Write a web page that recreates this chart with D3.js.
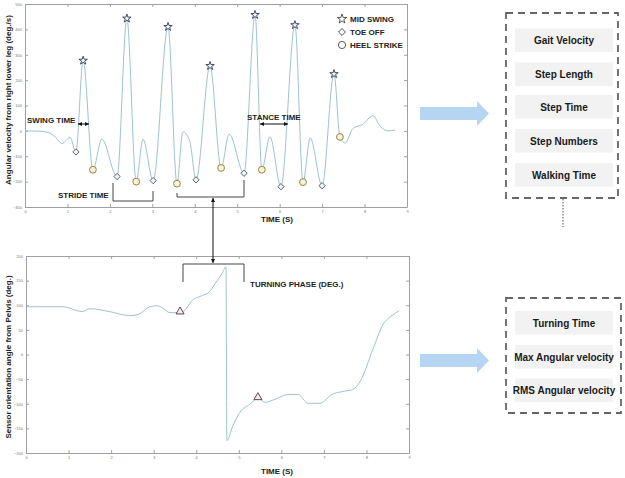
<!DOCTYPE html>
<html><head><meta charset="utf-8">
<script src="https://cdn.jsdelivr.net/npm/d3@7"></script>
<style>body{margin:0;background:#fff}svg{display:block}text{font-family:"Liberation Sans",Arial,sans-serif}</style>
</head><body>
<svg id="c" width="625" height="478"></svg>
<script>
// ---- top plot: shank angular velocity ----
const gaitT = [0,0.3,0.55,0.72,0.87,1.06,1.20,1.37,1.60,1.81,2.17,2.40,2.62,2.78,3.02,3.37,3.58,3.72,3.88,4.03,4.36,4.62,4.81,5.16,5.42,5.58,5.77,6.03,6.36,6.55,6.72,7.00,7.28,7.42,7.54,7.73,7.95,8.20,8.36,8.55,8.72];
const gaitV = [0,-1,-6,-25,-50,-25,-83,277,-153,-33,-180,443,-200,-33,-196,410,-208,-3,-40,-193,256,-146,-13,-167,457,-153,-23,-220,417,-202,-28,-216,224,-24,-48,10,25,60,20,0,3];
const midSwingT = [1.37,2.40,3.37,4.36,5.42,6.36,7.28];
const midSwingV = [277,443,410,256,457,417,224];
const toeOffT = [1.20,2.17,3.02,4.03,5.16,6.03,7.00];
const toeOffV = [-83,-180,-196,-193,-167,-220,-216];
const heelT = [1.60,2.62,3.58,4.62,5.58,6.55,7.42];
const heelV = [-153,-200,-208,-146,-153,-202,-24];
const topYTicks = [500,400,300,200,100,0,-100,-200,-300];
const xTicks = [0,1,2,3,4,5,6,7,8,9];
const legendLabels = ["MID SWING","TOE OFF","HEEL STRIKE"];

// ---- bottom plot: pelvis orientation ----
const pelT = [0.02,0.87,1.32,1.50,1.97,2.44,2.63,2.91,3.08,3.20,3.38,3.62,3.74,3.92,4.09,4.32,4.39,4.61,4.70,4.72,4.86,5.03,5.26,5.45,5.62,5.85,6.16,6.39,6.63,6.91,7.19,7.45,7.68,7.85,8.15,8.39,8.60,8.77];
const pelV = [97,97,87,93,87,79,81,97,99,95,85,85,91,111,118,128,137,165,178,-175,-145,-117,-101,-89,-97,-91,-81,-81,-99,-99,-81,-75,-71,-55,10,61,79,89];
const turnT = [3.62,5.45];
const turnV = [85,-89];
const botYTicks = [200,150,100,50,0,-50,-100,-150,-200];

const gaitParams = ["Gait Velocity","Step Length","Step Time","Step Numbers","Walking Time"];
const turnParams = ["Turning Time","Max Angular velocity","RMS Angular velocity"];

const svg = d3.select("#c");
const lineCol = "#9cc3cf";

function panel(x0,x1,y0,y1,ydom,yticks){
  const x = d3.scaleLinear().domain([0,9]).range([x0,x1]);
  const y = d3.scaleLinear().domain(ydom).range([y1,y0]);
  const g = svg.append("g");
  const ax = (gen,tr,lab)=>{
    const a = g.append("g").attr("transform",tr).call(gen.tickSizeInner(-3).tickSizeOuter(0).tickPadding(3));
    a.select(".domain").attr("stroke","#a0a0a0");
    a.selectAll(".tick line").attr("stroke","#a0a0a0");
    a.selectAll("text").attr("font-size",4).attr("fill","#777");
    if(!lab) a.selectAll("text").remove();
  };
  ax(d3.axisBottom(x).tickValues(xTicks).tickFormat(d3.format("d")),`translate(0,${y1})`,true);
  ax(d3.axisTop(x).tickValues(xTicks),`translate(0,${y0})`,false);
  ax(d3.axisLeft(y).tickValues(yticks).tickFormat(d3.format("d")),`translate(${x0},0)`,true);
  ax(d3.axisRight(y).tickValues(yticks),`translate(${x1},0)`,false);
  return {x,y,g};
}

// top panel
const P1 = panel(25,407,4,207,[-300,500],topYTicks);
const line1 = d3.line().x((d,i)=>P1.x(gaitT[i])).y((d,i)=>P1.y(gaitV[i])).curve(d3.curveMonotoneX);
P1.g.append("path").attr("d",line1(gaitT)).attr("fill","none").attr("stroke",lineCol).attr("stroke-width",1);

const starSym = d3.symbol().type(d3.symbolStar).size(22);
const diaSym = d3.symbol().type(d3.symbolSquare).size(20);
P1.g.selectAll(".st").data(midSwingT).join("path").attr("d",starSym())
  .attr("transform",(d,i)=>`translate(${P1.x(d)},${P1.y(midSwingV[i])})`)
  .attr("fill","#f2f5f9").attr("stroke","#2f3b55").attr("stroke-width",0.9);
P1.g.selectAll(".di").data(toeOffT).join("path").attr("d",diaSym())
  .attr("transform",(d,i)=>`translate(${P1.x(d)},${P1.y(toeOffV[i])}) rotate(45)`)
  .attr("fill","#eef4f6").attr("stroke","#555c66").attr("stroke-width",0.9);
P1.g.selectAll(".hc").data(heelT).join("circle")
  .attr("cx",d=>P1.x(d)).attr("cy",(d,i)=>P1.y(heelV[i])).attr("r",3.4)
  .attr("fill","#f8f3d6").attr("stroke","#857c35").attr("stroke-width",0.9);

// legend
const lg = svg.append("g");
const lgY=[19,32,45];
lg.append("path").attr("d",d3.symbol().type(d3.symbolStar).size(28)()).attr("transform",`translate(342,${lgY[0]})`).attr("fill","#fff").attr("stroke","#333").attr("stroke-width",0.8);
lg.append("path").attr("d",d3.symbol().type(d3.symbolSquare).size(24)()).attr("transform",`translate(342,${lgY[1]}) rotate(45)`).attr("fill","#fff").attr("stroke","#333").attr("stroke-width",0.8);
lg.append("circle").attr("cx",342).attr("cy",lgY[2]).attr("r",3.6).attr("fill","#fff").attr("stroke","#333").attr("stroke-width",0.8);
lg.selectAll("text").data(legendLabels).join("text").attr("x",350).attr("y",(d,i)=>lgY[i]+3)
  .attr("font-size",8).attr("font-weight","bold").attr("fill","#222").text(d=>d);

// bottom panel
const P2 = panel(26,409,256,453,[-200,200],botYTicks);
const line2 = d3.line().x((d,i)=>P2.x(pelT[i])).y((d,i)=>P2.y(pelV[i])).curve(d3.curveMonotoneX);
P2.g.append("path").attr("d",line2(pelT)).attr("fill","none").attr("stroke",lineCol).attr("stroke-width",1);
P2.g.selectAll(".tr").data(turnT).join("path").attr("d",d3.symbol().type(d3.symbolTriangle).size(28)())
  .attr("transform",(d,i)=>`translate(${P2.x(d)},${P2.y(turnV[i])-1})`)
  .attr("fill","#f4ecee").attr("stroke","#5a3040").attr("stroke-width",0.9);

// axis titles
function txt(x,y,s,size,rot,anchor){
  const t = svg.append("text").attr("font-size",size).attr("font-weight","bold").attr("fill","#222")
    .attr("text-anchor",anchor||"start").text(s);
  if(rot) t.attr("transform",`translate(${x},${y}) rotate(-90)`); else t.attr("x",x).attr("y",y);
  return t;
}
txt(11,100,"Angular velocity from right lower leg (deg./s)",8,true,"middle");
txt(11,357,"Sensor orientation angle from Pelvis (deg.)",8,true,"middle");
txt(277,222,"TIME (S)",8,false,"middle");
txt(277,474,"TIME (S)",8,false,"middle");

// annotations
const ann = svg.append("g").attr("stroke","#444").attr("fill","none").attr("stroke-width",1);
txt(27,123,"SWING TIME",8);
txt(247,120,"STANCE TIME",8);
txt(58,198,"STRIDE TIME",8);
txt(250,287,"TURNING PHASE (DEG.)",8);
function dbl(x1,y1,x2,y2){
  ann.append("line").attr("x1",x1).attr("y1",y1).attr("x2",x2).attr("y2",y2).attr("stroke","#111");
  const head=(px,py,dx,dy)=>{const nx=-dy,ny=dx;ann.append("path").attr("d",`M${px},${py}L${px-dx*4+nx*2},${py-dy*4+ny*2}L${px-dx*4-nx*2},${py-dy*4-ny*2}Z`).attr("fill","#111").attr("stroke","none");};
  const L=Math.hypot(x2-x1,y2-y1),dx=(x2-x1)/L,dy=(y2-y1)/L;
  head(x2,y2,dx,dy); head(x1,y1,-dx,-dy);
}
dbl(78,124,89,124);
dbl(260,124,288,124);
dbl(213,198,213,263);
ann.append("path").attr("d","M113,183V201H153V191");
ann.append("path").attr("d","M177,193V197H244V180");
ann.append("path").attr("d","M183,282V264H244V282");

// block arrows
[113.5,360.5].forEach(cy=>{
  svg.append("path").attr("d",`M420,${cy-6.5}H477V${cy-12.5}L489,${cy}L477,${cy+12.5}V${cy+6.5}H420Z`).attr("fill","#b5d5f2");
});

// boxes
function box(x0,y0,x1,y1,items,ys){
  svg.append("rect").attr("x",x0).attr("y",y0).attr("width",x1-x0).attr("height",y1-y0)
    .attr("fill","none").attr("stroke","#666").attr("stroke-width",1.8).attr("stroke-dasharray","7,5");
  items.forEach((s,i)=>{
    svg.append("rect").attr("x",515).attr("y",ys[i]).attr("width",98).attr("height",23.5).attr("fill","#f2f2f2");
    svg.append("text").attr("x",564).attr("y",ys[i]+15.5).attr("text-anchor","middle").attr("font-size",10)
      .attr("font-weight","bold").attr("fill","#1a1a1a").text(s);
  });
}
box(506,13,618,198,gaitParams,[28.5,62.5,95,129,163]);
box(506,298,621,413,turnParams,[311,345,378.5]);
svg.append("line").attr("x1",563).attr("y1",199).attr("x2",563).attr("y2",227).attr("stroke","#777").attr("stroke-width",1.3).attr("stroke-dasharray","1.5,1.5");
</script>
</body></html>
